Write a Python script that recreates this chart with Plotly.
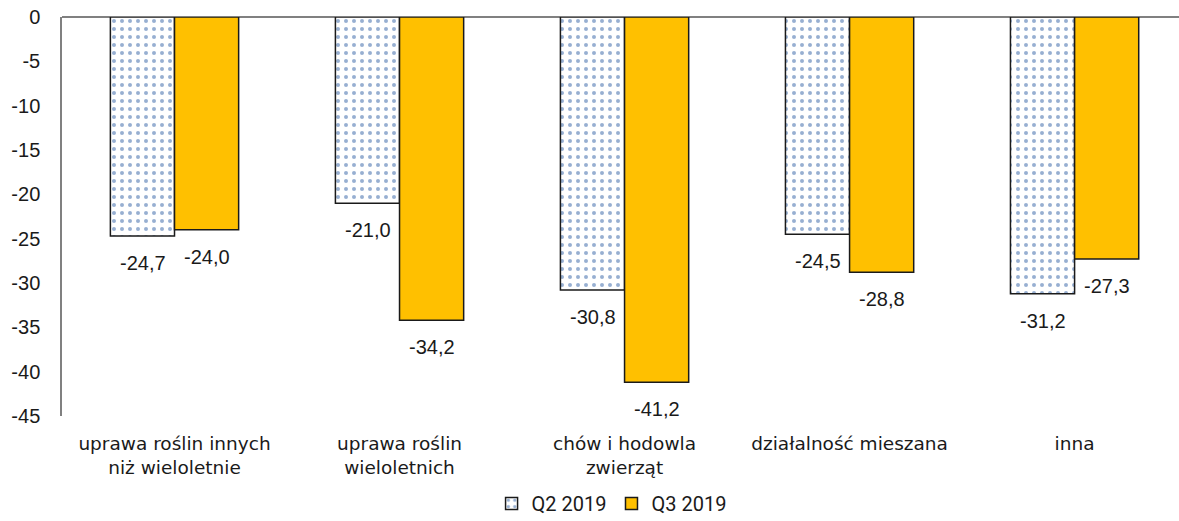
import plotly.graph_objects as go

# categories and values
categories = [
    "uprawa roślin innych<br>niż wieloletnie",
    "uprawa roślin<br>wieloletnich",
    "chów i hodowla<br>zwierząt",
    "działalność mieszana",
    "inna",
]
q2_2019 = [-24.7, -21.0, -30.8, -24.5, -31.2]
q3_2019 = [-24.0, -34.2, -41.2, -28.8, -27.3]
y_ticks = [0, -5, -10, -15, -20, -25, -30, -35, -40, -45]

num_font = dict(family="Liberation Sans, Arial", size=20, color="#1a1a1a")
x_idx = list(range(len(categories)))

fig = go.Figure()

# Q2 - dotted pattern
fig.add_trace(go.Bar(
    x=x_idx, y=q2_2019, name="Q2 2019",
    marker=dict(
        color="white",
        line=dict(color="#1a1a1a", width=1.5),
        pattern=dict(shape=".", fgcolor="#2F5FA3", bgcolor="white", size=8, solidity=0.2),
    ),
))

# Q3 - solid orange
fig.add_trace(go.Bar(
    x=x_idx, y=q3_2019, name="Q3 2019",
    marker=dict(color="#FFC000", line=dict(color="#1a1a1a", width=1.5)),
))

# data labels below the bar ends (offset to the bar of each series)
for series, shift in ((q2_2019, -32), (q3_2019, 32)):
    for i, v in zip(x_idx, series):
        fig.add_annotation(
            x=i, y=v, text=f"{v:.1f}".replace(".", ","),
            xshift=shift, yshift=-27, showarrow=False,
            font=num_font, xanchor="center", yanchor="middle",
        )

fig.update_layout(
    width=1179, height=521,
    barmode="group", bargap=0.43, bargroupgap=0,
    plot_bgcolor="white", paper_bgcolor="white",
    margin=dict(l=62, r=0, t=17, b=105, autoexpand=False),
    legend=dict(orientation="h", x=0.492, xanchor="center", y=-0.268, yanchor="bottom",
                font=dict(family="Roboto, Liberation Sans", size=20, color="#1a1a1a"),
                itemwidth=30),
    showlegend=True,
)

fig.update_xaxes(
    tickmode="array", tickvals=x_idx, ticktext=categories,
    range=[-0.5, 4.464], showline=False, showgrid=False, ticks="",
    ticklabelstandoff=14, automargin=False,
    tickfont=dict(family="DejaVu Sans", size=18.5, color="#1a1a1a"),
)

fig.update_yaxes(
    range=[-45, 0], tickmode="array", tickvals=y_ticks,
    ticktext=[str(v) for v in y_ticks],
    showgrid=False, showline=True, linecolor="#808080", linewidth=1.5,
    zeroline=True, zerolinecolor="#808080", zerolinewidth=1.5,
    ticks="", ticklabelstandoff=16, automargin=False,
    tickfont=num_font,
)

# drop the default 8px body margin of the page
fig.write_html("out.html", config={"displayModeBar": False},
               post_script="document.body.style.margin='0';")
